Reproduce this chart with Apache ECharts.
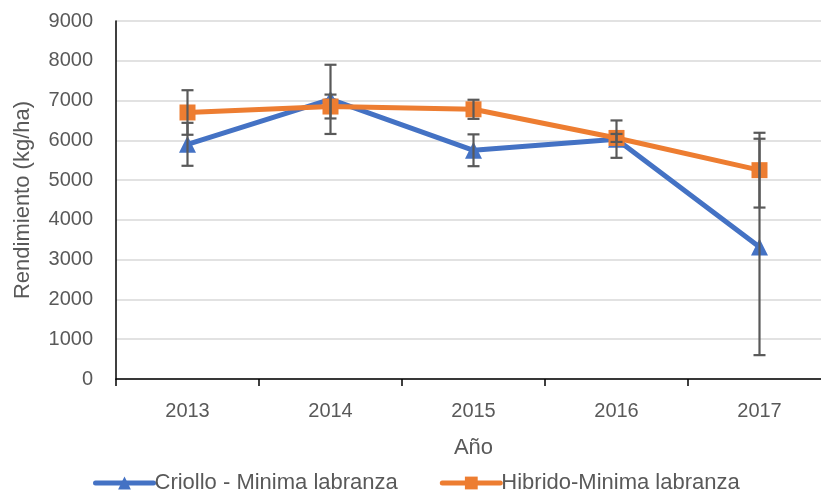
<!DOCTYPE html>
<html>
<head>
<meta charset="utf-8">
<script src="https://cdn.jsdelivr.net/npm/echarts@6/dist/echarts.min.js"></script>
<style>
    html, body { margin: 0; padding: 0; background: #fff; overflow: hidden; }
    #chart { width: 831px; height: 495px; }
</style>
</head>
<body>
<div id="chart"></div>
<script>
    // datos
    const years = ['2013', '2014', '2015', '2016', '2017'];
    const criollo = [5900, 7030, 5750, 6030, 3320];
    const criolloErr = [540, 870, 400, 470, 2720];
    const hibrido = [6700, 6850, 6780, 6060, 5250];
    const hibridoErr = [560, 300, 240, 100, 940];
    const yTicks = [0, 1000, 2000, 3000, 4000, 5000, 6000, 7000, 8000, 9000];

    const textColor = '#595959';
    const font = 'Liberation Sans';

    function errData(vals, errs) {
        return vals.map((v, i) => [i, v - errs[i], v + errs[i]]);
    }

    function renderErr(params, api) {
        let x = api.value(0);
        let lo = api.coord([x, api.value(1)]);
        let hi = api.coord([x, api.value(2)]);
        let w = 6;
        let style = { stroke: '#595959', lineWidth: 2.2 };
        return {
            type: 'group',
            children: [
                { type: 'line', shape: { x1: lo[0], y1: lo[1], x2: hi[0], y2: hi[1] }, style: style },
                { type: 'line', shape: { x1: lo[0] - w, y1: lo[1], x2: lo[0] + w, y2: lo[1] }, style: style },
                { type: 'line', shape: { x1: hi[0] - w, y1: hi[1], x2: hi[0] + w, y2: hi[1] }, style: style }
            ]
        };
    }

    let chart = echarts.init(document.getElementById('chart'));
    chart.setOption({
        animation: false,
        textStyle: { fontFamily: font },
        grid: { left: 116, right: 0, top: 21, bottom: 116 },
        legend: {
            left: 88,
            bottom: -4,
            itemWidth: 58,
            itemHeight: 16,
            itemGap: 42,
            lineStyle: { width: 5, cap: 'round' },
            textStyle: { color: textColor, fontSize: 22, fontFamily: font, padding: [0, 0, 0, -4] },
            data: ['Criollo - Minima labranza', 'Hibrido-Minima labranza']
        },
        xAxis: {
            type: 'category',
            data: years,
            boundaryGap: true,
            name: 'Año',
            nameLocation: 'middle',
            nameGap: 58,
            nameTextStyle: { color: textColor, fontSize: 22, fontFamily: font },
            axisLine: { lineStyle: { color: '#000', width: 1.5 } },
            axisTick: { show: true, length: 7, lineStyle: { color: '#000', width: 1.5 } },
            axisLabel: { color: textColor, fontSize: 20, margin: 22 }
        },
        yAxis: {
            type: 'value',
            min: yTicks[0],
            max: yTicks[yTicks.length - 1],
            interval: 1000,
            name: 'Rendimiento (kg/ha)',
            nameLocation: 'middle',
            nameGap: 82,
            nameTextStyle: { color: textColor, fontSize: 22, fontFamily: font },
            axisLine: { show: true, lineStyle: { color: '#000', width: 1.5 } },
            axisTick: { show: false },
            axisLabel: { color: textColor, fontSize: 20, margin: 23, formatter: v => String(v) },
            splitLine: { lineStyle: { color: '#d9d9d9', width: 1.5 } }
        },
        series: [
            {
                name: 'Criollo - Minima labranza',
                type: 'line',
                data: criollo,
                symbol: 'triangle',
                symbolSize: 17,
                color: '#4472c4',
                lineStyle: { width: 5, color: '#4472c4' },
                itemStyle: { color: '#4472c4' },
                z: 2
            },
            {
                name: 'Hibrido-Minima labranza',
                type: 'line',
                data: hibrido,
                symbol: 'rect',
                symbolSize: 16,
                color: '#ed7d31',
                lineStyle: { width: 5, color: '#ed7d31' },
                itemStyle: { color: '#ed7d31' },
                z: 3
            },
            {
                type: 'custom',
                renderItem: renderErr,
                data: errData(criollo, criolloErr),
                z: 5
            },
            {
                type: 'custom',
                renderItem: renderErr,
                data: errData(hibrido, hibridoErr),
                z: 5
            }
        ]
    });
</script>
</body>
</html>
